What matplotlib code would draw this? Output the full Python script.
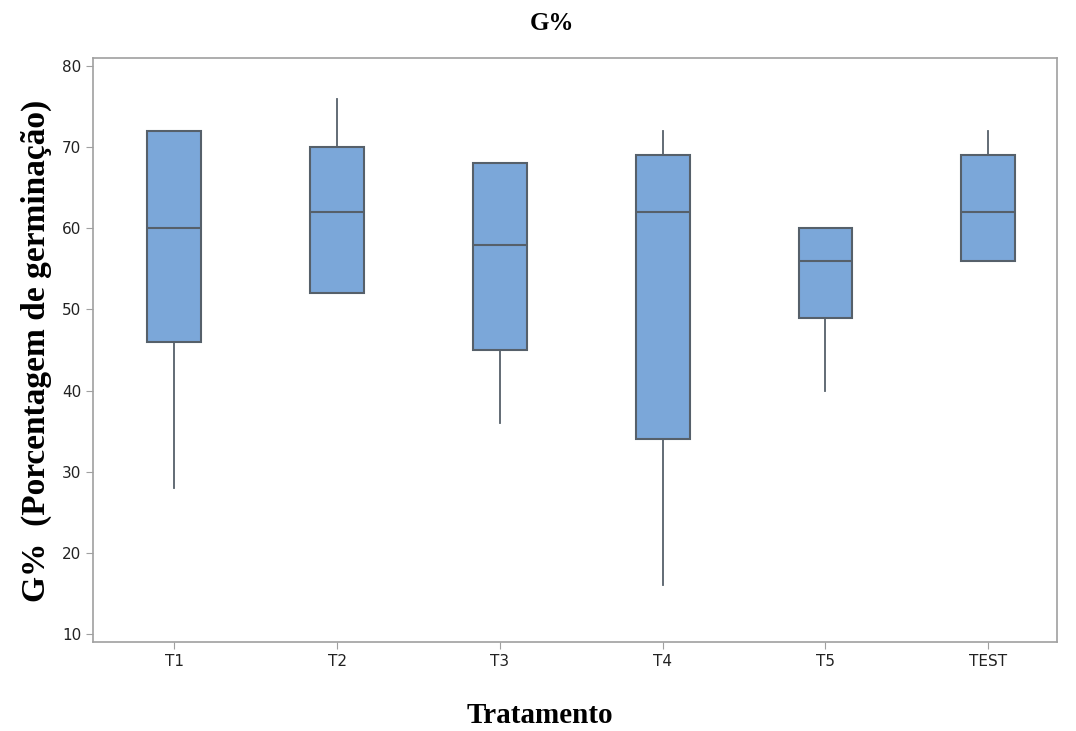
import matplotlib.pyplot as plt

# Boxplot summary values
tratamentos = ["T1", "T2", "T3", "T4", "T5", "TEST"]
minimos = [28, 52, 36, 16, 40, 56]
q1 = [46, 52, 45, 34, 49, 56]
medianas = [60, 62, 58, 62, 56, 62]
q3 = [72, 70, 68, 69, 60, 69]
maximos = [72, 76, 68, 72, 60, 72]

stats = []
for i, nome in enumerate(tratamentos):
    stats.append({
        "label": nome,
        "whislo": minimos[i],
        "q1": q1[i],
        "med": medianas[i],
        "q3": q3[i],
        "whishi": maximos[i],
        "fliers": [],
    })

fig = plt.figure(figsize=(10.76, 7.31), dpi=100)
ax = fig.add_axes([0.0864, 0.1218, 0.8956, 0.7989])

edge = "#56606a"
ax.bxp(stats, positions=range(1, 7), widths=0.33, patch_artist=True,
       showcaps=False,
       boxprops=dict(facecolor="#7ba7d9", edgecolor=edge, linewidth=1.5),
       medianprops=dict(color=edge, linewidth=1.5),
       whiskerprops=dict(color=edge, linewidth=1.3))

ax.set_xlim(0.5, 6.42)
ax.set_ylim(9, 81)
ax.set_yticks(range(10, 81, 10))

for s in ax.spines.values():
    s.set_color("#a0a0a0")
    s.set_linewidth(1.2)
ax.tick_params(colors="#a0a0a0", labelcolor="#222222", labelsize=11, length=5)

serif = dict(family="Liberation Serif", fontweight="bold")
# titles are centred on the figure, not the axes
fig.text(0.513, 0.968, "G%", fontsize=18, ha="center", va="center", **serif)
fig.text(0.502, 0.021, "Tratamento", fontsize=21, ha="center", va="center", **serif)
fig.text(0.034, 0.52, "G%  (Porcentagem de germinação)", fontsize=24,
         rotation=90, ha="center", va="center", **serif)

fig.savefig("out.png")
